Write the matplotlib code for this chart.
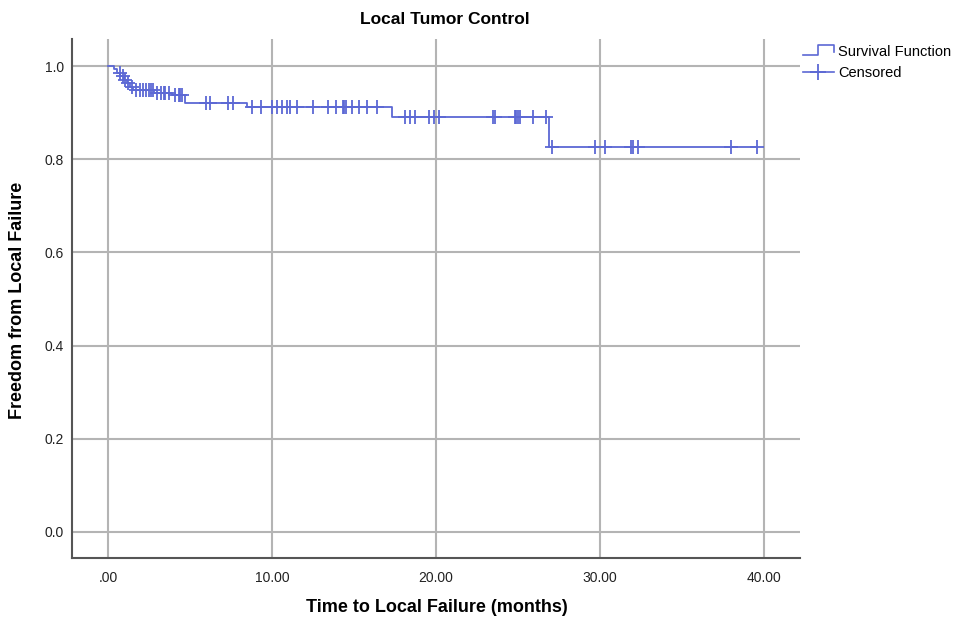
import numpy as np
import matplotlib.pyplot as plt
from matplotlib.lines import Line2D

plt.rcParams['font.family'] = ['Liberation Sans', 'DejaVu Sans']

# ==========================================================
# Data
# ==========================================================
# Kaplan-Meier steps: time of drop (months) and survival after that drop
step_times = [0.0, 0.35, 0.55, 0.75, 0.95, 1.15, 1.35, 1.55, 2.8, 3.9, 4.7, 8.5, 17.3, 26.9]
step_surv = [1.0, 0.993, 0.986, 0.978, 0.970, 0.963, 0.956, 0.949, 0.943, 0.937, 0.921, 0.912, 0.891, 0.827]
end_time = 39.6

# censored observations (months)
censored_times = [0.7, 0.9, 1.05, 1.2, 1.45, 1.7, 1.95, 2.1, 2.3, 2.5, 2.6, 2.75,
                  3.0, 3.2, 3.4, 3.5, 3.7, 4.1, 4.3, 4.4, 4.5, 6.0, 6.2, 7.3, 7.6,
                  8.8, 9.3, 10.0, 10.3, 10.6, 10.9, 11.1, 11.5, 12.5, 13.4, 13.9,
                  14.3, 14.4, 14.5, 14.9, 15.3, 15.8, 16.4, 18.1, 18.4, 18.7, 19.6,
                  19.9, 20.2, 23.5, 23.6, 24.8, 24.9, 25.0, 25.1, 25.9, 26.7, 27.1,
                  29.7, 30.3, 31.9, 32.0, 32.3, 38.0, 39.6]

x_ticks = [0, 10, 20, 30, 40]
x_tick_labels = ['.00', '10.00', '20.00', '30.00', '40.00']
y_ticks = [0.0, 0.2, 0.4, 0.6, 0.8, 1.0]
y_tick_labels = ['0.0', '0.2', '0.4', '0.6', '0.8', '1.0']

# ==========================================================
# Figure
# ==========================================================
blue = '#5c68d4'
grid_col = '#b4b4b4'

fig = plt.figure(figsize=(9.63, 6.19), dpi=100)
ax = fig.add_axes([72 / 963, 1 - 558 / 619, (800 - 72) / 963, (558 - 39) / 619])

# survival curve
xs = list(step_times) + [end_time]
ys = list(step_surv) + [step_surv[-1]]
ax.step(xs, ys, where='post', color=blue, linewidth=1.3, zorder=3)

# censored marks on the curve
idx = np.searchsorted(step_times, censored_times, side='right') - 1
cens_y = np.array(step_surv)[idx]
ax.plot(censored_times, cens_y, linestyle='none', marker='+', markersize=10,
        markeredgewidth=1.3, color=blue, zorder=4)

# --- axis ---
ax.set_xlim(-2.2, 42.2)
ax.set_ylim(-0.056, 1.058)
ax.set_xticks(x_ticks)
ax.set_xticklabels(x_tick_labels, fontsize=10)
ax.set_yticks(y_ticks)
ax.set_yticklabels(y_tick_labels, fontsize=10)
ax.tick_params(length=0, colors='#222222')
ax.tick_params(axis='x', pad=9)
ax.tick_params(axis='y', pad=6)

ax.grid(True, color=grid_col, linewidth=1.5, zorder=0)
ax.set_axisbelow(True)
for side in ['top', 'right']:
    ax.spines[side].set_visible(False)
for side in ['left', 'bottom']:
    ax.spines[side].set_color('#555555')
    ax.spines[side].set_linewidth(1.5)

# --- labels ---
fig.text(445 / 963, 1 - 20 / 619, 'Local Tumor Control', ha='center', va='center',
         fontsize=12.5, fontweight='bold')
fig.text(437 / 963, 1 - 607 / 619, 'Time to Local Failure (months)', ha='center',
         va='center', fontsize=13, fontweight='bold')
fig.text(18 / 963, 1 - 300 / 619, 'Freedom from Local Failure', ha='center',
         va='center', rotation=90, fontsize=13, fontweight='bold')

# --- legend (drawn by hand to get the step-shaped key) ---
def fx(px):
    return px / 963

def fy(py):
    return 1 - py / 619

fig.add_artist(Line2D([fx(803), fx(818), fx(818), fx(834), fx(834)],
                      [fy(55), fy(55), fy(45), fy(45), fy(52)],
                      color=blue, linewidth=1.2))
fig.add_artist(Line2D([fx(803), fx(834)], [fy(72), fy(72)], color=blue, linewidth=1.2))
fig.add_artist(Line2D([fx(818)], [fy(72)], linestyle='none', marker='+',
                      markersize=11, markeredgewidth=1.3, color=blue))
fig.text(fx(838), fy(52), 'Survival Function', ha='left', va='center', fontsize=10.5)
fig.text(fx(838), fy(73), 'Censored', ha='left', va='center', fontsize=10.5)

fig.savefig('out.png', dpi=100)
